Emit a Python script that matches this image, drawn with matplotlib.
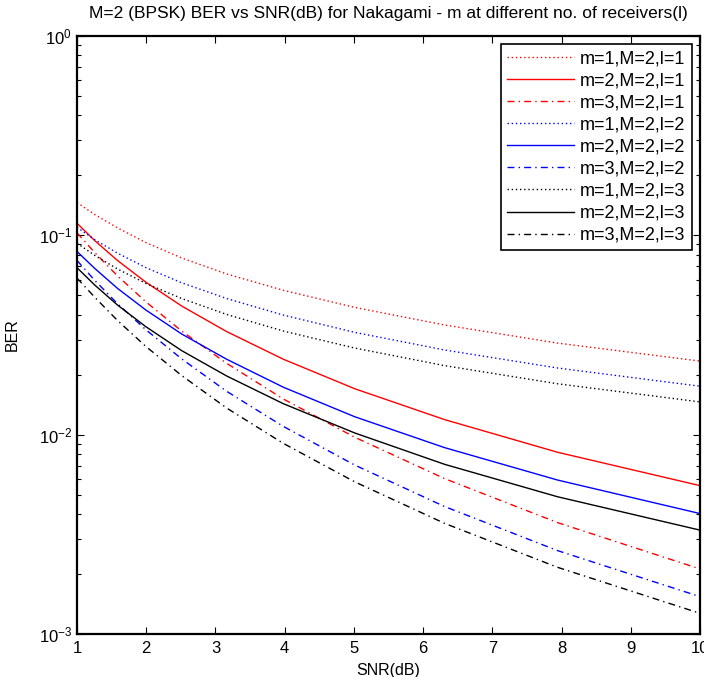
import matplotlib
matplotlib.use("Agg")
import matplotlib.pyplot as plt
from matplotlib.ticker import LogLocator, NullFormatter, FixedLocator

plt.rcParams['font.family'] = ['Liberation Sans', 'DejaVu Sans']
plt.rcParams['mathtext.fontset'] = 'custom'
plt.rcParams['mathtext.rm'] = 'Liberation Sans'
plt.rcParams['mathtext.it'] = 'Liberation Sans:italic'
plt.rcParams['mathtext.bf'] = 'Liberation Sans:bold'

snr = [1.000, 1.259, 1.585, 1.995, 2.512, 3.162, 3.981, 5.012, 6.310, 7.943, 10.000]

ber_m1_l1 = [0.146, 0.127, 0.109, 0.092, 0.077, 0.064, 0.053, 0.0435, 0.0355, 0.0288, 0.0234]
ber_m2_l1 = [0.115, 0.0939, 0.0748, 0.0582, 0.0442, 0.0329, 0.0239, 0.0170, 0.0119, 0.00816, 0.00555]
ber_m3_l1 = [0.1030, 0.0818, 0.0626, 0.0464, 0.0331, 0.0228, 0.0151, 0.00971, 0.00602, 0.00362, 0.00212]
ber_m1_l2 = [0.1098, 0.0950, 0.0814, 0.0689, 0.0578, 0.0482, 0.0398, 0.0326, 0.0266, 0.0216, 0.0175]
ber_m2_l2 = [0.0830, 0.0681, 0.0542, 0.0422, 0.0320, 0.0239, 0.0173, 0.0123, 0.00861, 0.00592, 0.00402]
ber_m3_l2 = [0.0748, 0.0593, 0.0454, 0.0336, 0.0240, 0.0165, 0.0110, 0.00704, 0.00436, 0.00262, 0.00154]
ber_m1_l3 = [0.0913, 0.0792, 0.0678, 0.0574, 0.0482, 0.0401, 0.0331, 0.0272, 0.0222, 0.0180, 0.0146]
ber_m2_l3 = [0.0688, 0.0562, 0.0447, 0.0348, 0.0264, 0.0197, 0.0143, 0.0102, 0.0071, 0.00488, 0.00332]
ber_m3_l3 = [0.0610, 0.0488, 0.0374, 0.0277, 0.0198, 0.0136, 0.00904, 0.00580, 0.00359, 0.00216, 0.00127]

labels = ['m=1,M=2,l=1', 'm=2,M=2,l=1', 'm=3,M=2,l=1',
          'm=1,M=2,l=2', 'm=2,M=2,l=2', 'm=3,M=2,l=2',
          'm=1,M=2,l=3', 'm=2,M=2,l=3', 'm=3,M=2,l=3']
series = [ber_m1_l1, ber_m2_l1, ber_m3_l1,
          ber_m1_l2, ber_m2_l2, ber_m3_l2,
          ber_m1_l3, ber_m2_l3, ber_m3_l3]
colors = ['#ff0000'] * 3 + ['#0000ff'] * 3 + ['#000000'] * 3
styles = [(0, (1, 2)), '-', (0, (5, 3, 1, 3))] * 3

x_ticks = [1, 2, 3, 4, 5, 6, 7, 8, 9, 10]

fig = plt.figure(figsize=(7.04, 6.77), dpi=100)
ax = fig.add_axes([77 / 704, 43 / 677, 623 / 704, 598 / 677])

for y, lab, c, ls in zip(series, labels, colors, styles):
    ax.plot(snr, y, color=c, linestyle=ls, linewidth=1.0, label=lab)

ax.set_yscale('log')
ax.set_xlim(1, 10)
ax.set_ylim(1e-3, 1)
ax.xaxis.set_major_locator(FixedLocator(x_ticks))
ax.yaxis.set_major_locator(LogLocator(base=10, numticks=10))
ax.yaxis.set_minor_locator(LogLocator(base=10, subs=range(2, 10), numticks=20))
ax.yaxis.set_minor_formatter(NullFormatter())

ax.tick_params(which='both', direction='in', top=True, right=True, labelsize=12)
ax.tick_params(which='major', length=5, width=0.8)
ax.tick_params(which='minor', length=3, width=0.8)
ax.tick_params(axis='x', pad=5)
for s in ax.spines.values():
    s.set_linewidth(1.6)

ax.set_xlabel('SNR(dB)', fontsize=11.5, labelpad=5)
ax.set_ylabel('BER', fontsize=11.5, labelpad=14)
ax.set_title('M=2 (BPSK) BER vs SNR(dB) for Nakagami - m at different no. of receivers(l)',
             fontsize=12.5, pad=13)

leg = ax.legend(loc='upper right', fontsize=13, handlelength=3.7, handletextpad=0.35,
                labelspacing=0.28, borderaxespad=0.45, borderpad=0.35,
                fancybox=False, framealpha=1)
leg.get_frame().set_edgecolor('black')
leg.get_frame().set_linewidth(1.2)

fig.savefig('out.png', dpi=100)
